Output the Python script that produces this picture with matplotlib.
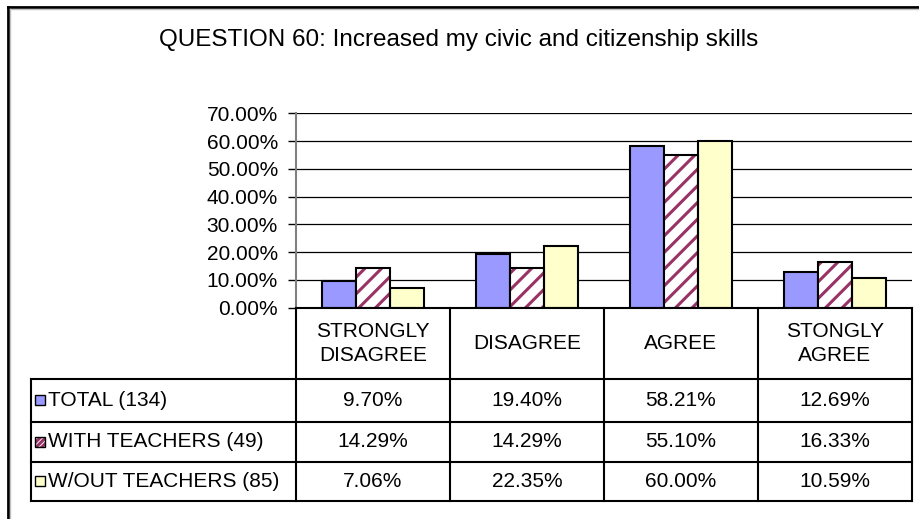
import numpy as np
import matplotlib
matplotlib.use("Agg")
import matplotlib.pyplot as plt
from matplotlib.lines import Line2D
from matplotlib.patches import Rectangle

plt.rcParams['font.family'] = ['Liberation Sans', 'DejaVu Sans']
plt.rcParams['hatch.linewidth'] = 2.2

title = "QUESTION 60: Increased my civic and citizenship skills"
categories = ["STRONGLY\nDISAGREE", "DISAGREE", "AGREE", "STONGLY\nAGREE"]
series_names = ["TOTAL (134)", "WITH TEACHERS (49)", "W/OUT TEACHERS (85)"]
total = [9.70, 19.40, 58.21, 12.69]
with_teachers = [14.29, 14.29, 55.10, 16.33]
without_teachers = [7.06, 22.35, 60.00, 10.59]
yticks = [0, 10, 20, 30, 40, 50, 60, 70]

W, H = 919, 519
FS = 15
fig = plt.figure(figsize=(W / 100, H / 100), dpi=100)


def fx(x):
    return x / W


def fy(y):
    return 1 - y / H


def hline(y, x0, x1, lw=1.2, color='black'):
    fig.add_artist(Line2D([fx(x0), fx(x1)], [fy(y), fy(y)], color=color, lw=lw,
                          transform=fig.transFigure))


def vline(x, y0, y1, lw=1.2, color='black'):
    fig.add_artist(Line2D([fx(x), fx(x)], [fy(y0), fy(y1)], color=color, lw=lw,
                          transform=fig.transFigure))


# plot area in pixels
left, right, top, bottom = 296, 912, 113.5, 307.5
ax = fig.add_axes([fx(left), fy(bottom), fx(right - left), (bottom - top) / H])

x = np.arange(len(categories))
bw = 1 / 4.5
ax.bar(x - bw, total, bw, color='#9999FF', edgecolor='black', lw=1.5, zorder=3)
ax.bar(x, with_teachers, bw, color='white', edgecolor='#993366', hatch='//', lw=0, zorder=3)
ax.bar(x, with_teachers, bw, color='none', edgecolor='black', lw=1.5, zorder=4)
ax.bar(x + bw, without_teachers, bw, color='#FFFFCC', edgecolor='black', lw=1.5, zorder=3)

ax.set_xlim(-0.5, len(categories) - 0.5)
ax.set_ylim(0, 70)
ax.set_yticks(yticks)
ax.set_yticklabels([f"{t:.2f}%" for t in yticks], fontsize=FS)
ax.set_xticks([])
ax.yaxis.grid(True, color='black', lw=0.9, zorder=0)
for s in ['top', 'right', 'bottom']:
    ax.spines[s].set_visible(False)
ax.spines['left'].set_color('#808080')
ax.spines['left'].set_linewidth(1.5)
ax.tick_params(axis='y', length=6, width=1, color='black', pad=7)

fig.suptitle(title, x=0.499, y=fy(40), va='center', fontsize=17.5)

# data table below the plot
col_w = (right - left) / len(categories)
cols = [left + i * col_w for i in range(len(categories) + 1)]
t_top, h_bot = 308, 379
rows = [379, 421.5, 461.5, 501]
leg_left = 31

hline(t_top, left, right, lw=1.5)
for y in rows:
    hline(y, leg_left, right, lw=1.5)
for c in cols:
    vline(c, t_top, rows[-1], lw=1.5)
vline(leg_left, rows[0], rows[-1], lw=1.5)

for i, cat in enumerate(categories):
    fig.text(fx(cols[i] + col_w / 2), fy((t_top + h_bot) / 2), cat, ha='center',
             va='center', fontsize=FS, linespacing=1.35)

values = [total, with_teachers, without_teachers]
swatch = [dict(facecolor='#9999FF', edgecolor='black'),
          dict(facecolor='white', edgecolor='#993366', hatch='//////'),
          dict(facecolor='#FFFFCC', edgecolor='black')]
for r in range(len(series_names)):
    yc = (rows[r] + rows[r + 1]) / 2
    sx, ss = 35, 10
    fig.add_artist(Rectangle((fx(sx), fy(yc + ss / 2)), fx(ss), ss / H, lw=0 if r == 1 else 1,
                             transform=fig.transFigure, **swatch[r]))
    if r == 1:
        fig.add_artist(Rectangle((fx(sx), fy(yc + ss / 2)), fx(ss), ss / H, lw=1,
                                 facecolor='none', edgecolor='black', transform=fig.transFigure))
    fig.text(fx(48), fy(yc), series_names[r], ha='left', va='center', fontsize=FS)
    for i, v in enumerate(values[r]):
        fig.text(fx(cols[i] + col_w / 2), fy(yc), f"{v:.2f}%", ha='center', va='center', fontsize=FS)

# outer chart frame (only left and top edges are visible)
vline(8, 7, H + 5, lw=2)
hline(7, 8, W + 5, lw=2)
vline(10, 9, H + 5, lw=1, color='#c0c0c0')
hline(9, 10, W + 5, lw=1, color='#c0c0c0')

fig.savefig("out.png", dpi=100)
